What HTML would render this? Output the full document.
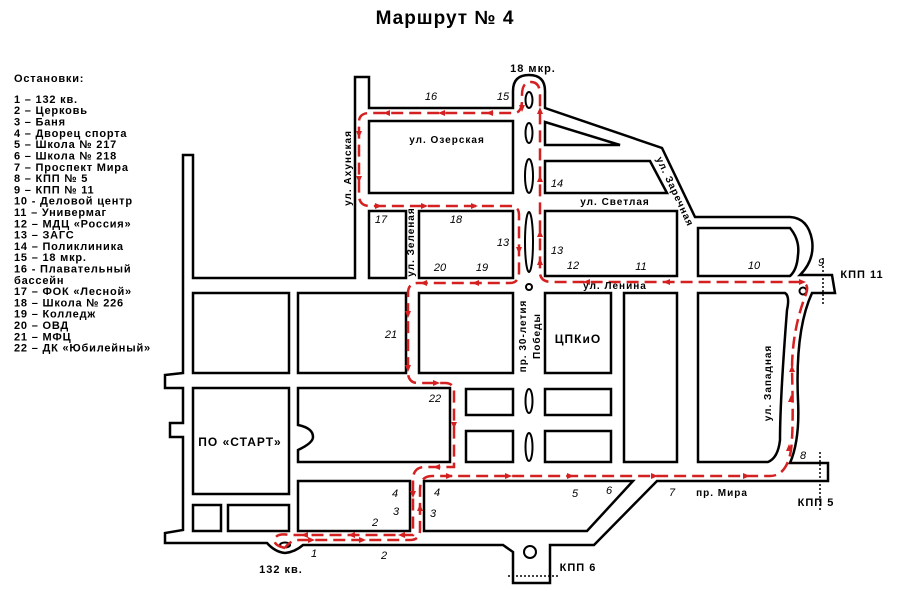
<!DOCTYPE html>
<html><head><meta charset="utf-8"><style>
body{margin:0;background:#fff;}
svg{display:block;font-family:"Liberation Sans",sans-serif;}
.b{fill:#fff;stroke:#000;stroke-width:2.5;}
.l{fill:none;stroke:#000;stroke-width:2.5;}
.r{fill:none;stroke:#d42020;stroke-width:2.5;stroke-dasharray:12 6;}
.n{font-style:italic;font-size:11px;fill:#000;}
.s{font-weight:bold;font-size:10px;fill:#000;letter-spacing:1px;}
.lg{font-weight:bold;font-size:11px;fill:#000;letter-spacing:0.8px;}
.a{fill:#d42020;}
</style></head><body>
<svg width="900" height="591" viewBox="0 0 900 591">
<text x="445" y="24" text-anchor="middle" font-weight="bold" font-size="19" letter-spacing="1">Маршрут № 4</text>
<g class="lg">
<text x="14" y="82">Остановки:</text>
<text x="14" y="103">1 – 132 кв.</text>
<text x="14" y="114">2 – Церковь</text>
<text x="14" y="125.6">3 – Баня</text>
<text x="14" y="137">4 – Дворец спорта</text>
<text x="14" y="148.2">5 – Школа № 217</text>
<text x="14" y="159.5">6 – Школа № 218</text>
<text x="14" y="170.8">7 – Проспект Мира</text>
<text x="14" y="182">8 – КПП № 5</text>
<text x="14" y="193.4">9 – КПП № 11</text>
<text x="14" y="204.7">10 - Деловой центр</text>
<text x="14" y="216">11 – Универмаг</text>
<text x="14" y="227.3">12 – МДЦ «Россия»</text>
<text x="14" y="238.6">13 – ЗАГС</text>
<text x="14" y="250">14 – Поликлиника</text>
<text x="14" y="261.2">15 – 18 мкр.</text>
<text x="14" y="272.5">16 - Плавательный</text>
<text x="14" y="283.8">бассейн</text>
<text x="14" y="295">17 – ФОК «Лесной»</text>
<text x="14" y="306.4">18 – Школа № 226</text>
<text x="14" y="317.7">19 – Колледж</text>
<text x="14" y="329">20 – ОВД</text>
<text x="14" y="340.3">21 – МФЦ</text>
<text x="14" y="351.6">22 – ДК «Юбилейный»</text>
</g>
<path class="l" d="M183,155 L183,373 L165,375 L165,388 L183,388 L183,423 L170,423 L170,437 L183,437 L183,530 L165,533 L165,543 L267,543 Q275,552 285,553 Q295,552 303,545 L503,545 L513,552 L513,583 L550,583 L550,545 L594,545 L657,481 L828,481 L828,463 L790,463 Q800,440 798,400 Q795,330 812,293 L835,293 L832,275 L800,275 Q815,260 812,240 Q808,218 790,217 L695,217 L662,148 L545,108 L545,91 Q545,75 529,75 Q513,75 513,91 L513,108 L369,108 L369,77 L355,77 L355,278 L193,278 L193,155 Z"/>
<rect class="b" x="369" y="121" width="144" height="72"/>
<rect class="b" x="369" y="211" width="37" height="67"/>
<rect class="b" x="419" y="211" width="94" height="67"/>
<polygon class="b" points="545,122 620,145 545,145"/>
<polygon class="b" points="545,161 650,161 667,193 545,193"/>
<rect class="b" x="545" y="211" width="132" height="65"/>
<path class="b" d="M698,228 L790,228 Q800,240 798,255 Q797,270 790,276 L698,276 Z"/>
<rect class="b" x="193" y="293" width="96" height="80"/>
<rect class="b" x="298" y="293" width="108" height="80"/>
<rect class="b" x="419" y="293" width="94" height="80"/>
<rect class="b" x="545" y="293" width="66" height="80"/>
<rect class="b" x="624" y="293" width="53" height="169"/>
<path class="b" d="M698,293 L785,293 Q790,296 787,310 Q780,400 780,440 Q778,458 768,462 L698,462 Z"/>
<rect class="b" x="193" y="388" width="96" height="106"/>
<path class="b" d="M298,388 L450,388 L450,462 L298,462 L298,450 Q313,443 313,437 Q313,428 298,425 Z"/>
<rect class="b" x="466" y="389" width="47" height="26"/>
<rect class="b" x="466" y="431" width="47" height="31"/>
<rect class="b" x="545" y="389" width="66" height="26"/>
<rect class="b" x="545" y="431" width="66" height="31"/>
<rect class="b" x="193" y="505" width="28" height="26"/>
<rect class="b" x="228" y="505" width="61" height="26"/>
<rect class="b" x="298" y="481" width="112" height="50"/>
<path class="b" d="M424,481 L633,481 L587,531 L424,531 Z"/>
<g fill="none" stroke="#000" stroke-width="2">
<ellipse cx="529" cy="100" rx="3.5" ry="8"/>
<ellipse cx="529" cy="133" rx="3.5" ry="10"/>
<ellipse cx="529" cy="176" rx="4" ry="17"/>
<ellipse cx="529" cy="242" rx="4" ry="30"/>
<circle cx="529" cy="287" r="3"/>
<ellipse cx="529" cy="401" rx="3.5" ry="12"/>
<ellipse cx="529" cy="447" rx="3.5" ry="14"/>
<circle cx="530" cy="552" r="6"/>
<circle cx="803" cy="291" r="3.5"/>
<ellipse cx="285" cy="545" rx="5" ry="2.5"/>
</g>
<path class="r" d="M285,548 Q272,545 275,538 Q278,533 290,535 L413,535 Q413,535 413,525 L413,480 Q413,467 425,467 L454,467 L454,392 Q454,383 445,383 L418,383 Q408,383 408,372 L408,293 Q408,283 418,283 L510,283 Q519,283 519,272 L519,215 Q519,206 510,206 L370,206 Q359,206 359,195 L359,122 Q359,113 370,113 L515,113 Q522,112 522,100 L522,95 Q522,82 531,82 Q540,82 540,95 L540,272 Q540,282 552,282 L800,282 Q810,283 806,294 Q792,330 792,370 Q794,440 790,455 Q785,476 770,476 L432,476 Q420,476 420,490 L420,530 Q420,540 410,540 L300,540 Q290,540 285,548"/>
<g class="a">
<polygon points="806,282 799,279 799,285"/>
<polygon points="663,282 670,279 670,285"/>
<polygon points="583,282 590,279 590,285"/>
<polygon points="540,175 537,182 543,182"/>
<polygon points="540,230 537,237 543,237"/>
<polygon points="540,258 537,265 543,265"/>
<polygon points="540,107 537,114 543,114"/>
<polygon points="522,112 519,105 525,105"/>
<polygon points="486,113 493,110 493,116"/>
<polygon points="438,113 445,110 445,116"/>
<polygon points="383,113 390,110 390,116"/>
<polygon points="359,138 356,131 362,131"/>
<polygon points="359,183 356,176 362,176"/>
<polygon points="382,206 375,203 375,209"/>
<polygon points="428,206 421,203 421,209"/>
<polygon points="478,206 471,203 471,209"/>
<polygon points="519,254 516,247 522,247"/>
<polygon points="472,283 479,280 479,286"/>
<polygon points="420,283 427,280 427,286"/>
<polygon points="408,318 405,311 411,311"/>
<polygon points="408,372 405,365 411,365"/>
<polygon points="440,383 433,380 433,386"/>
<polygon points="454,429 451,422 457,422"/>
<polygon points="433,467 440,464 440,470"/>
<polygon points="413,498 410,491 416,491"/>
<polygon points="420,504 417,511 423,511"/>
<polygon points="301,535 308,532 308,538"/>
<polygon points="348,535 355,532 355,538"/>
<polygon points="398,535 405,532 405,538"/>
<polygon points="315,540 308,537 308,543"/>
<polygon points="366,540 359,537 359,543"/>
<polygon points="453,476 446,473 446,479"/>
<polygon points="512,476 505,473 505,479"/>
<polygon points="574,476 567,473 567,479"/>
<polygon points="658,476 651,473 651,479"/>
<polygon points="750,476 743,473 743,479"/>
<polygon points="789,444 786,451 792,451"/>
<polygon points="791,395 788,402 794,402"/>
<polygon points="792,365 789,372 795,372"/>
</g>
<g stroke="#000" stroke-width="1.5" stroke-dasharray="2 2">
<line x1="823" y1="258" x2="823" y2="305"/>
<line x1="820" y1="452" x2="820" y2="510"/>
<line x1="508" y1="576" x2="560" y2="576"/>
</g>
<g class="n" text-anchor="middle">
<text x="431" y="100">16</text><text x="503" y="100">15</text>
<text x="381" y="223">17</text><text x="456" y="223">18</text>
<text x="503" y="246">13</text><text x="440" y="271">20</text><text x="482" y="271">19</text>
<text x="557" y="187">14</text><text x="557" y="254">13</text><text x="573" y="269">12</text>
<text x="641" y="270">11</text><text x="754" y="269">10</text><text x="821" y="266">9</text>
<text x="391" y="338">21</text><text x="435" y="402">22</text>
<text x="395" y="497">4</text><text x="437" y="496">4</text><text x="396" y="515">3</text><text x="433" y="517">3</text>
<text x="375" y="526">2</text><text x="384" y="559">2</text><text x="314" y="557">1</text>
<text x="575" y="497">5</text><text x="609" y="494">6</text><text x="672" y="496">7</text><text x="803" y="459">8</text>
</g>
<g class="s">
<text x="447" y="143" text-anchor="middle">ул. Озерская</text>
<text x="615" y="205" text-anchor="middle">ул. Светлая</text>
<text x="615" y="289" text-anchor="middle">ул. Ленина</text>
<text x="722" y="496" text-anchor="middle">пр. Мира</text>
<text transform="translate(351,168) rotate(-90)" text-anchor="middle">ул. Ахунская</text>
<text transform="translate(414,242) rotate(-90)" text-anchor="middle">ул. Зеленая</text>
<text transform="translate(526,336) rotate(-90)" text-anchor="middle">пр. 30-летия</text>
<text transform="translate(540,336) rotate(-90)" text-anchor="middle">Победы</text>
<text transform="translate(672,193) rotate(65)" text-anchor="middle">ул. Заречная</text>
<text transform="translate(771,383) rotate(-90)" text-anchor="middle">ул. Западная</text>
</g>
<g font-weight="bold" font-size="12" text-anchor="middle" letter-spacing="1">
<text x="578" y="343">ЦПКиО</text>
<text x="240" y="446">ПО «СТАРТ»</text>
<text x="281" y="573" font-size="11">132 кв.</text>
<text x="578" y="571" font-size="11">КПП 6</text>
<text x="862" y="278" font-size="11">КПП 11</text>
<text x="816" y="506" font-size="11">КПП 5</text>
<text x="533" y="72" font-size="11">18 мкр.</text>
</g>
</svg>
</body></html>
